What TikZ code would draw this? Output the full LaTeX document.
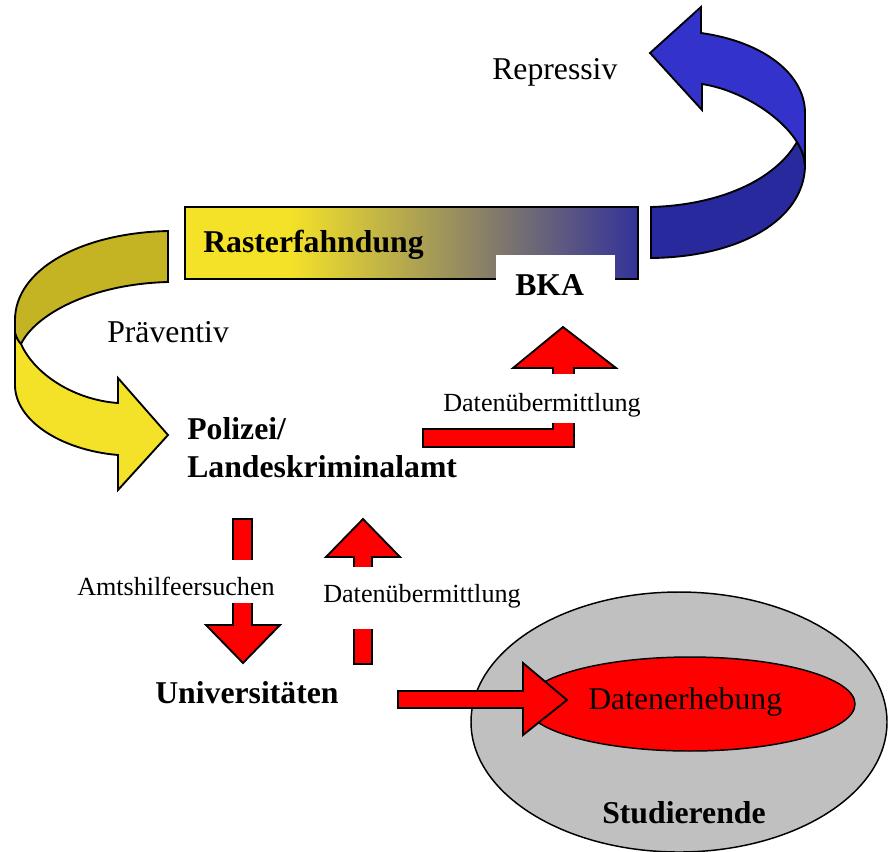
\documentclass[tikz,border=0pt]{standalone}
\usepackage{fontspec}
\setmainfont{Liberation Serif}
\definecolor{ryellow}{RGB}{244,226,40}
\definecolor{rolive}{RGB}{196,180,36}
\definecolor{rblue}{RGB}{51,51,153}
\definecolor{rmid}{RGB}{148,134,128}
\definecolor{blight}{RGB}{51,51,204}
\definecolor{bdark}{RGB}{41,41,158}
\definecolor{arrred}{RGB}{255,0,0}
\definecolor{greyfill}{RGB}{192,192,192}
\tikzset{
  outl/.style={draw=black, line width=1.4pt, line join=miter},
  redarrow/.style={outl, fill=arrred},
  bigtext/.style={font=\fontsize{23.8}{28.5}\selectfont, inner sep=0pt, anchor=base west},
  bigbold/.style={font=\fontsize{23.8}{28.5}\selectfont\bfseries, inner sep=0pt, anchor=base west},
  smalllabel/.style={font=\fontsize{19.6}{23}\selectfont, inner sep=0pt, anchor=base west, fill=white}
}
\begin{document}
\begin{tikzpicture}[x=0.75pt,y=-0.75pt]
\useasboundingbox (0,0) rectangle (888,851);
\clip (0,0) rectangle (888,851);

% Studierende / Datenerhebung ellipses
\draw[draw=black, line width=1.1pt, fill=greyfill] (679,722) ellipse [x radius=156pt, y radius=97.5pt];
\draw[draw=black, line width=1.1pt, fill=arrred] (690,704) ellipse [x radius=123.75pt, y radius=35.25pt];

% Rasterfahndung box
\fill[ryellow] (185,207) rectangle (290,279);
\shade[left color=ryellow, middle color=rmid, right color=rblue] (290,207) rectangle (638,279);
\draw[outl] (185,207) rectangle (638,279);
\fill[white] (496,255) rectangle (615,283);

% blue arrow (Repressiv)
\draw[outl, fill=bdark] (651,207) .. controls (720,205) and (775,180) .. (797,142)
  .. controls (802,150) and (805,158) .. (805,167)
  .. controls (803,220) and (740,257) .. (651,258) -- cycle;
\draw[outl, fill=blight] (650,53) -- (701,7) -- (701,33)
  .. controls (765,42) and (805,75) .. (805,113) -- (805,167)
  .. controls (805,158) and (802,150) .. (797,142)
  .. controls (780,115) and (740,90) .. (702,84) -- (702,110) -- cycle;

% yellow arrow (Praeventiv)
\draw[outl, fill=rolive] (168,231) .. controls (80,233) and (15,270) .. (15,320) -- (15,333)
  .. controls (16,337) and (18,341) .. (21,344)
  .. controls (35,315) and (90,284) .. (168,282) -- cycle;
\draw[outl, fill=ryellow] (21,344) .. controls (35,375) and (75,400) .. (118,403) -- (118,378)
  -- (168,435) -- (118,490) -- (118,455)
  .. controls (60,450) and (15,420) .. (15,385) -- (15,333)
  .. controls (16,337) and (18,341) .. (21,344) -- cycle;

% red arrows
\draw[redarrow] (423,429) -- (553,429) -- (553,368) -- (513,368) -- (563,327) -- (616,368)
  -- (574,368) -- (574,447) -- (423,447) -- cycle;
\draw[redarrow] (233,519) -- (252,519) -- (252,625) -- (280,625) -- (243,663) -- (206,625)
  -- (233,625) -- cycle;
\draw[redarrow] (354,664) -- (354,557) -- (326,557) -- (363,519) -- (400,557) -- (372,557)
  -- (372,664) -- cycle;
\draw[redarrow] (398,691) -- (523,691) -- (523,663) -- (567,700) -- (523,735) -- (523,708)
  -- (398,708) -- cycle;

% labels on arrows (white background cuts the arrows)
\node[smalllabel, text height=27.75pt, text depth=9pt] (lblbka) at (443,411) {Datenübermittlung};
\node[smalllabel, text height=26.25pt, text depth=6pt] (lblamt) at (77,595) {Amtshilfeersuchen};
\node[smalllabel, text height=26.25pt, text depth=20.25pt] (lbluni) at (323,602) {Datenübermittlung};

% texts
\node[bigtext] (repr) at (492,79) {Repressiv};
\node[bigtext] (praev) at (107,342) {Präventiv};
\node[bigbold] (raster) at (203,252) {Rasterfahndung};
\node[bigbold] (bka) at (515,295) {BKA};
\node[bigbold] (pol1) at (187,439) {Polizei/};
\node[bigbold] (pol2) at (187,477) {Landeskriminalamt};
\node[bigbold] (uni) at (155,703) {Universitäten};
\node[bigtext] (erheb) at (588,709) {Datenerhebung};
\node[bigbold] (stud) at (602,823) {Studierende};
\end{tikzpicture}
\end{document}
